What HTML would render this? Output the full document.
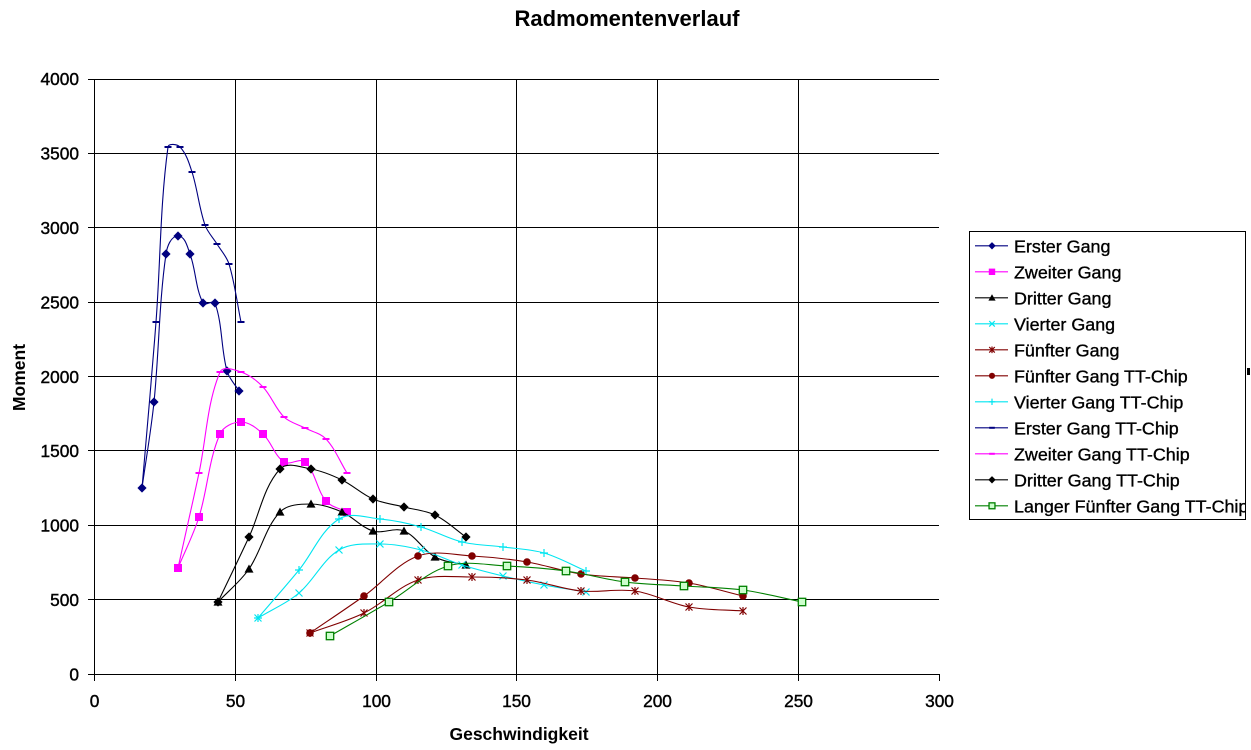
<!DOCTYPE html>
<html>
<head>
<meta charset="utf-8">
<style>
html,body{margin:0;padding:0;background:#fff;}
svg{display:block;}
text{font-family:"Liberation Sans",Arial,sans-serif;}
</style>
</head>
<body>
<svg id="c" xmlns="http://www.w3.org/2000/svg" width="1251" height="750" viewBox="0 0 1251 750">
<rect x="0" y="0" width="1251" height="750" fill="#fff"/>
<text x="627" y="26" font-size="22" font-weight="bold" text-anchor="middle">Radmomentenverlauf</text>
<g stroke="#000" stroke-width="1" shape-rendering="crispEdges" fill="none">
<line x1="94" y1="79.5" x2="939" y2="79.5"/>
<line x1="94" y1="153.5" x2="939" y2="153.5"/>
<line x1="94" y1="227.5" x2="939" y2="227.5"/>
<line x1="94" y1="302.5" x2="939" y2="302.5"/>
<line x1="94" y1="376.5" x2="939" y2="376.5"/>
<line x1="94" y1="450.5" x2="939" y2="450.5"/>
<line x1="94" y1="525.5" x2="939" y2="525.5"/>
<line x1="94" y1="599.5" x2="939" y2="599.5"/>
<line x1="235.5" y1="79" x2="235.5" y2="674"/>
<line x1="376.5" y1="79" x2="376.5" y2="674"/>
<line x1="516.5" y1="79" x2="516.5" y2="674"/>
<line x1="657.5" y1="79" x2="657.5" y2="674"/>
<line x1="798.5" y1="79" x2="798.5" y2="674"/>
<line x1="94.5" y1="79" x2="94.5" y2="675"/>
<line x1="94" y1="674.5" x2="940" y2="674.5"/>
<line x1="88" y1="79.5" x2="94" y2="79.5"/>
<line x1="88" y1="153.5" x2="94" y2="153.5"/>
<line x1="88" y1="227.5" x2="94" y2="227.5"/>
<line x1="88" y1="302.5" x2="94" y2="302.5"/>
<line x1="88" y1="376.5" x2="94" y2="376.5"/>
<line x1="88" y1="450.5" x2="94" y2="450.5"/>
<line x1="88" y1="525.5" x2="94" y2="525.5"/>
<line x1="88" y1="599.5" x2="94" y2="599.5"/>
<line x1="88" y1="674.5" x2="94" y2="674.5"/>
<line x1="94.5" y1="674" x2="94.5" y2="681"/>
<line x1="235.5" y1="674" x2="235.5" y2="681"/>
<line x1="376.5" y1="674" x2="376.5" y2="681"/>
<line x1="516.5" y1="674" x2="516.5" y2="681"/>
<line x1="657.5" y1="674" x2="657.5" y2="681"/>
<line x1="798.5" y1="674" x2="798.5" y2="681"/>
<line x1="939.5" y1="674" x2="939.5" y2="681"/>
</g>
<g font-size="17.3" text-anchor="end" stroke="#000" stroke-width="0.4">
<text x="79" y="85">4000</text>
<text x="79" y="159.5">3500</text>
<text x="79" y="234">3000</text>
<text x="79" y="308.5">2500</text>
<text x="79" y="383">2000</text>
<text x="79" y="457">1500</text>
<text x="79" y="531.5">1000</text>
<text x="79" y="606">500</text>
<text x="79" y="680.5">0</text>
</g>
<g font-size="17.3" text-anchor="middle" stroke="#000" stroke-width="0.4">
<text x="94.5" y="707">0</text>
<text x="235.5" y="707">50</text>
<text x="376.5" y="707">100</text>
<text x="516.5" y="707">150</text>
<text x="657.5" y="707">200</text>
<text x="798.5" y="707">250</text>
<text x="939.5" y="707">300</text>
</g>
<text x="519" y="740" font-size="17.5" font-weight="bold" text-anchor="middle">Geschwindigkeit</text>
<text transform="translate(25,377.5) rotate(-90)" font-size="17.5" font-weight="bold" text-anchor="middle">Moment</text>
<g id="series"></g>
<rect x="969.5" y="231.5" width="276" height="288" fill="#fff" stroke="#000" stroke-width="1" shape-rendering="crispEdges"/>
<clipPath id="lc"><rect x="970" y="232" width="275" height="287"/></clipPath>
<g id="legend" clip-path="url(#lc)"></g>
<rect x="1247" y="368" width="3" height="7" fill="#000"/>
</svg>
<script>
(function(){
var NS="http://www.w3.org/2000/svg";
var S=[
 {n:"Erster Gang",c:"#000080",m:"diamond",p:[[142,488],[154,402],[166,254],[178,236],[190,254],[203,303],[215,303],[227,371],[239,391]]},
 {n:"Zweiter Gang",c:"#FF00FF",m:"square",p:[[178,568],[199,517],[220,434],[241,422],[263,434],[284,462],[305,462],[326,501],[347,512]]},
 {n:"Dritter Gang",c:"#000000",m:"triangle",p:[[218,602],[249,569],[280,512],[311,504],[342,512],[373,531],[404,531],[435,557],[466,565]]},
 {n:"Vierter Gang",c:"#00E5F0",m:"x",p:[[258,618],[299,593],[339,550],[380,544],[421,550],[462,565],[503,576],[544,585],[586,592]]},
 {n:"Fünfter Gang",c:"#800000",m:"star",p:[[310,633],[364,613],[418,580],[472,577],[527,580],[581,591],[635,591],[689,607],[743,611]]},
 {n:"Fünfter Gang TT-Chip",c:"#800000",m:"circle",p:[[310,633],[364,596],[418,556],[472,556],[527,562],[581,574],[635,578],[689,583],[743,596]]},
 {n:"Vierter Gang TT-Chip",c:"#00E5F0",m:"plus",p:[[258,618],[299,570],[339,519],[380,519],[421,527],[462,542],[503,547],[544,553],[586,571]]},
 {n:"Erster Gang TT-Chip",c:"#000080",m:"dash",p:[[142,488],[156,322],[168,147],[180,147],[192,172],[205,225],[217,244],[229,264],[241,322]]},
 {n:"Zweiter Gang TT-Chip",c:"#FF00FF",m:"dash",p:[[178,568],[199,473],[220,372],[241,372],[263,387],[284,417],[305,428],[326,439],[347,473]]},
 {n:"Dritter Gang TT-Chip",c:"#000000",m:"diamond",p:[[218,602],[249,537],[280,469],[311,469],[342,480],[373,499],[404,507],[435,515],[466,537]]},
 {n:"Langer Fünfter Gang TT-Chip",c:"#008000",m:"gsquare",p:[[330,636],[389,602],[448,566],[507,566],[566,571],[625,582],[684,586],[743,590],[802,602]]}
];
function el(t,a,par){var e=document.createElementNS(NS,t);for(var k in a)e.setAttribute(k,a[k]);par.appendChild(e);return e;}
function unit(a,b){var dx=b[0]-a[0],dy=b[1]-a[1],l=Math.sqrt(dx*dx+dy*dy)||1;return [dx/l,dy/l];}
function path(p){
 var d="M"+p[0][0]+","+p[0][1];
 for(var i=0;i<p.length-1;i++){
  var p0=p[i-1]||p[i],p1=p[i],p2=p[i+1],p3=p[i+2]||p[i+1];
  var dx=p2[0]-p1[0],dy=p2[1]-p1[1],len=Math.sqrt(dx*dx+dy*dy)/3;
  var t1=unit(p0,p2),t2=unit(p1,p3);
  var c1=[p1[0]+t1[0]*len,p1[1]+t1[1]*len],c2=[p2[0]-t2[0]*len,p2[1]-t2[1]*len];
  d+=" C"+c1[0].toFixed(2)+","+c1[1].toFixed(2)+" "+c2[0].toFixed(2)+","+c2[1].toFixed(2)+" "+p2[0]+","+p2[1];
 }
 return d;
}
function marker(m,c,x,y,s,g){
 var r;
 switch(m){
  case "diamond": r=4.6*s; el("polygon",{points:[x,y-r,x+r,y,x,y+r,x-r,y].join(" "),fill:c},g); break;
  case "square": r=4*s; el("rect",{x:x-r,y:y-r,width:2*r,height:2*r,fill:c},g); break;
  case "triangle": r=4.5*s; el("polygon",{points:[x,y-r,x+r,y+r*0.8,x-r,y+r*0.8].join(" "),fill:c},g); break;
  case "x": r=3.5*s; el("path",{d:"M"+(x-r)+","+(y-r)+"L"+(x+r)+","+(y+r)+"M"+(x-r)+","+(y+r)+"L"+(x+r)+","+(y-r),stroke:c,"stroke-width":1.2,fill:"none"},g); break;
  case "star": r=3.5*s; el("path",{d:"M"+(x-r)+","+(y-r)+"L"+(x+r)+","+(y+r)+"M"+(x-r)+","+(y+r)+"L"+(x+r)+","+(y-r)+"M"+x+","+(y-r-0.5)+"L"+x+","+(y+r+0.5),stroke:c,"stroke-width":1.2,fill:"none"},g); break;
  case "circle": el("circle",{cx:x,cy:y,r:3.8*s,fill:c},g); break;
  case "plus": r=4*s; el("path",{d:"M"+(x-r)+","+y+"L"+(x+r)+","+y+"M"+x+","+(y-r)+"L"+x+","+(y+r),stroke:c,"stroke-width":1.2,fill:"none"},g); break;
  case "dash": r=3.5*s; el("rect",{x:x-r,y:y-1,width:2*r,height:2,fill:c},g); break;
  case "gsquare": r=3.7*s; el("rect",{x:x-r,y:y-r,width:2*r,height:2*r,fill:"#CCFFCC",stroke:c,"stroke-width":1.3},g); break;
 }
}
var sg=document.getElementById("series");
S.forEach(function(s){
 el("path",{d:path(s.p),stroke:s.c,"stroke-width":1.1,fill:"none"},sg);
 s.p.forEach(function(q){marker(s.m,s.c,q[0],q[1],1,sg);});
});
var lg=document.getElementById("legend");
S.forEach(function(s,i){
 var y=245.8+26*i;
 el("line",{x1:975,y1:y,x2:1008,y2:y,stroke:s.c,"stroke-width":1.1},lg);
 marker(s.m,s.c,992,y,0.8,lg);
 var t=el("text",{x:1014,y:y+6.5,"font-size":17.9,stroke:"#000","stroke-width":0.35},lg);
 t.textContent=s.n;
});
})();
</script>
</body>
</html>
